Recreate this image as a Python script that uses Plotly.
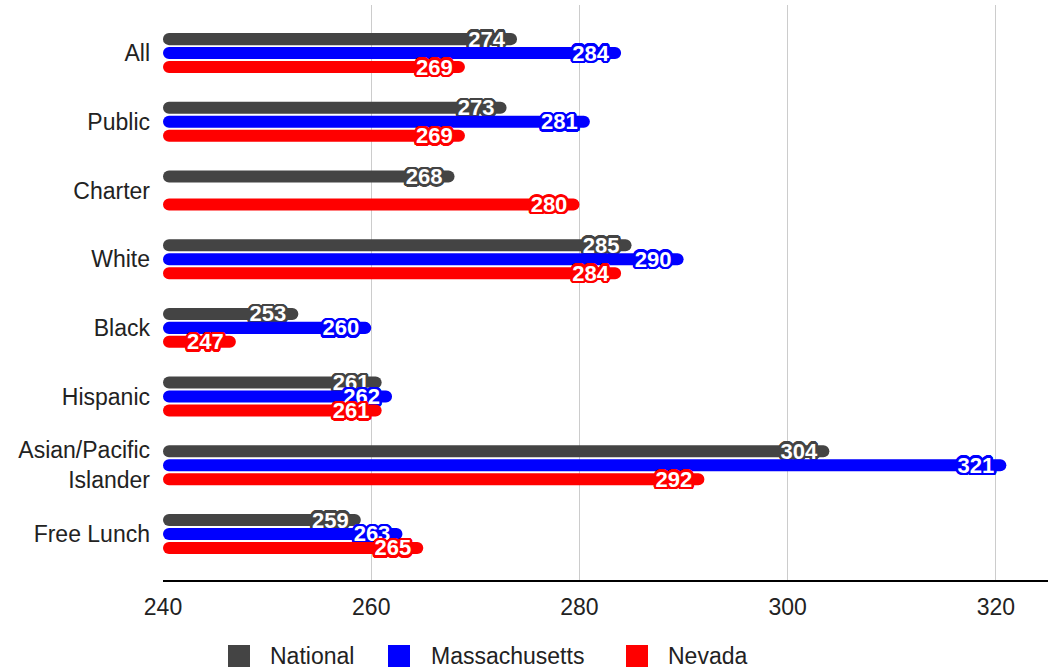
import plotly.graph_objects as go

categories = ["All", "Public", "Charter", "White", "Black", "Hispanic",
              "Asian/Pacific<br>Islander", "Free Lunch"]
national = [274, 273, 268, 285, 253, 261, 304, 259]
massachusetts = [284, 281, None, 290, 260, 262, 321, 263]
nevada = [269, 269, 280, 284, 247, 261, 292, 265]
x_ticks = [240, 260, 280, 300, 320]

series_names = ["National", "Massachusetts", "Nevada"]
series_values = [national, massachusetts, nevada]
series_colors = ["#444444", "#0000ff", "#ff0000"]

FONT = "Arial, Liberation Sans, sans-serif"
TEXT = "#222222"

W, H = 1050, 669
ML, MR, MT, MB = 163, 2, 5, 89
PW, PH = W - ML - MR, H - MT - MB


def outline(color, r=2.5):
    # ring of hard shadows that reads as a coloured halo around the label
    import math
    offs = []
    for k in range(24):
        a = 2 * math.pi * k / 24
        offs.append((round(r * math.cos(a), 2), round(r * math.sin(a), 2)))
    offs += [(1, 0), (-1, 0), (0, 1), (0, -1)]
    return ", ".join(f"{dx}px {dy}px 0 {color}" for dx, dy in offs)


fig = go.Figure()
for name, vals, color in zip(series_names, series_values, series_colors):
    fig.add_trace(go.Bar(
        name=name,
        y=list(range(len(categories))),
        x=[v - 240 if v is not None else None for v in vals],
        base=240,
        orientation="h",
        marker=dict(color=color, line=dict(width=0)),
        text=[f"{v}\u00a0" if v is not None else "" for v in vals],
        textposition="inside",
        insidetextanchor="end",
        textangle=0,
        textfont=dict(family=FONT, size=22, color="white", shadow=outline(color),
                      weight="bold"),
        cliponaxis=False,
        showlegend=False,
        hoverinfo="skip",
    ))


# legend drawn as squares + labels below the axis (pixel positions -> paper)
def px_x(px):
    return (px - ML) / PW


def px_y(py):
    return (H - MB - py) / PH


legend_square_left = [228, 388, 626]
legend_text_left = [268, 429, 666]
shapes, annotations = [], []
for name, color, sx, tx in zip(series_names, series_colors,
                               legend_square_left, legend_text_left):
    shapes.append(dict(type="rect", xref="paper", yref="paper",
                       x0=px_x(sx), x1=px_x(sx + 22), y0=px_y(645), y1=px_y(667),
                       fillcolor=color, line=dict(width=0)))
    annotations.append(dict(xref="paper", yref="paper", x=px_x(tx), y=px_y(656),
                            xanchor="left", yanchor="middle", showarrow=False,
                            text=name, font=dict(family=FONT, size=23, color=TEXT)))

fig.update_layout(
    width=W, height=H,
    margin=dict(l=ML, r=MR, t=MT, b=MB),
    paper_bgcolor="white", plot_bgcolor="white",
    barmode="group", bargap=0.39, bargroupgap=0.14,
    barcornerradius=6,
    uniformtext=dict(minsize=22, mode="show"),
    font=dict(family=FONT, size=23, color=TEXT),
    showlegend=False,
    shapes=shapes,
    annotations=annotations,
    xaxis=dict(range=[240, 325], tickvals=x_ticks, showgrid=True,
               gridcolor="#cccccc", gridwidth=1, zeroline=False,
               showline=True, linecolor="#000000", linewidth=2,
               ticks="", ticklabelstandoff=5,
               tickfont=dict(family=FONT, size=23, color=TEXT)),
    yaxis=dict(tickvals=list(range(len(categories))), ticktext=categories,
               range=[7.67, -0.70], showgrid=False, zeroline=False,
               ticks="", ticklabelstandoff=12,
               tickfont=dict(family=FONT, size=23, color=TEXT)),
)

fig.write_html("out.html")
